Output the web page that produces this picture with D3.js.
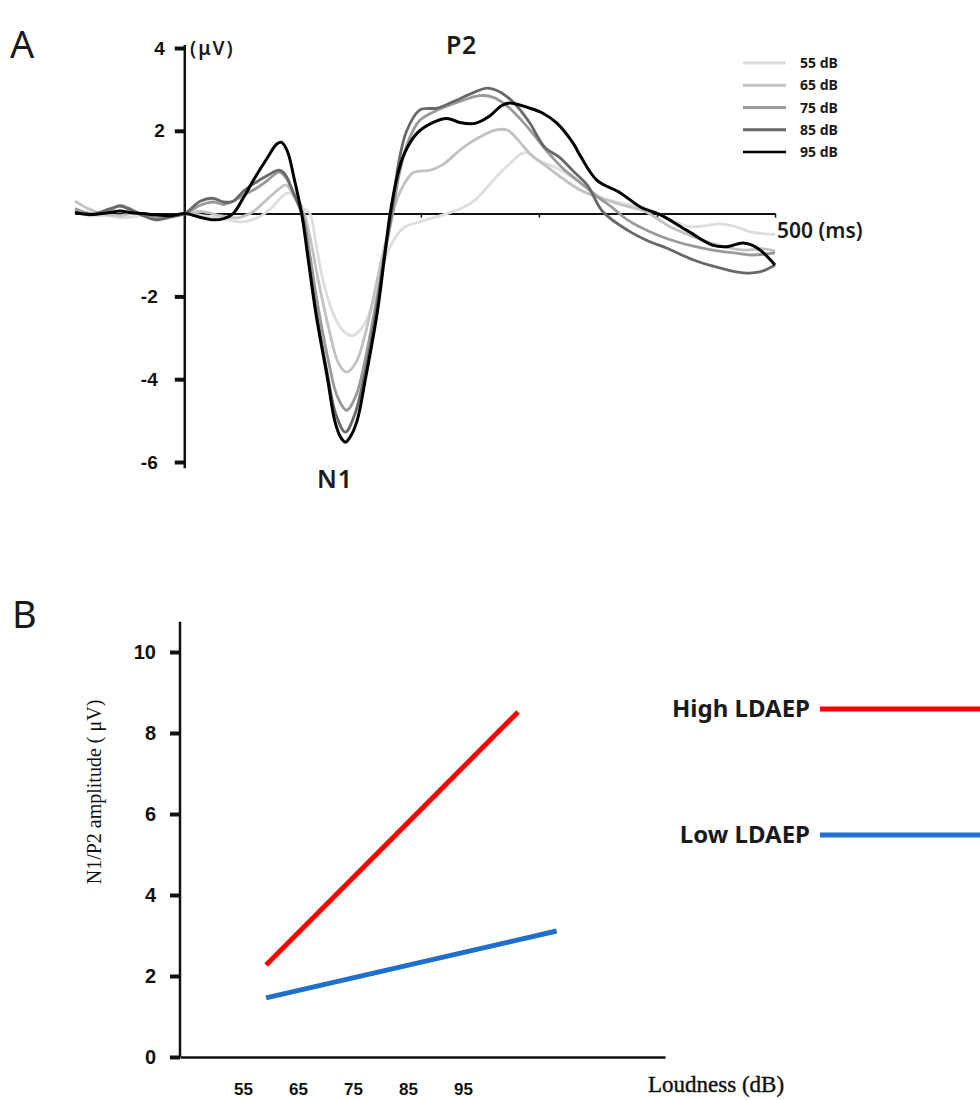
<!DOCTYPE html>
<html lang="en">
<head>
<meta charset="utf-8"/>
<style>
  body { margin: 0; background: #ffffff; }
  .num { font-family: "Liberation Sans", Arial, sans-serif; font-weight: bold; font-size: 17px; fill: #111; }
  .kr { font-family: "Noto Sans", "Open Sans", sans-serif; fill: #1a1a1a; }
  .serif { font-family: "Liberation Serif", "Times New Roman", serif; fill: #111; }
</style>
</head>
<body>
<svg id="chart" width="980" height="1100"></svg>

<script src="https://cdn.jsdelivr.net/npm/d3@7"></script>
<script>
// ---------- panel A : grand average waveforms, [time ms, amplitude uV] ----------
let wave55 = [[-93,0.05],[-80,-0.05],[-65,-0.05],[-55,-0.1],[-45,-0.08],[-35,-0.05],[-25,-0.15],[-12,-0.1],[0,0],[15,-0.05],[30,-0.1],[47,-0.2],[60,-0.12],[72,0.1],[82,0.4],[88,0.5],[95,0.35],[101,0.12],[106,0],[111,-0.7],[117,-1.6],[127,-2.5],[135,-2.85],[142,-2.95],[149,-2.8],[155,-2.5],[165,-1.6],[174,-0.8],[185,-0.35],[199,-0.2],[222,0],[236,0.15],[246,0.33],[255,0.6],[264,0.89],[275,1.2],[286,1.46],[292,1.45],[298,1.3],[315,1.1],[335,0.75],[352,0.4],[370,0.25],[388,0.15],[405,-0.05],[425,-0.3],[440,-0.3],[452,-0.25],[465,-0.3],[480,-0.45],[500,-0.5]]
let wave65 = [[-93,0.3],[-82,0.12],[-70,0],[-55,-0.05],[-45,0],[-35,-0.03],[-25,-0.1],[-12,-0.06],[0,0],[15,0.05],[30,-0.05],[45,-0.1],[58,0.05],[70,0.35],[80,0.6],[86,0.69],[92,0.45],[98,0.1],[101,0],[107,-0.7],[113,-1.6],[123,-2.9],[130,-3.6],[137,-3.83],[145,-3.6],[153,-2.9],[163,-1.6],[170,-0.7],[176,0],[182,0.5],[193,0.98],[208,1.05],[218,1.17],[236,1.6],[250,1.85],[264,2.02],[273,2.02],[281,1.82],[292,1.46],[307,1.13],[320,0.85],[335,0.57],[350,0.4],[369,0.22],[390,0.05],[410,-0.3],[430,-0.55],[447,-0.72],[460,-0.82],[475,-0.88],[490,-0.85],[500,-0.9]]
let wave75 = [[-93,0.12],[-80,0],[-65,0.05],[-55,0.2],[-45,0.1],[-35,-0.05],[-25,-0.1],[-12,-0.05],[0,0],[13,0.2],[24,0.28],[33,0.22],[41,0.3],[50,0.45],[60,0.6],[70,0.8],[80,1.0],[86,0.85],[93,0.45],[100,0],[106,-1.0],[112,-2.1],[122,-3.6],[129,-4.4],[137,-4.75],[145,-4.4],[153,-3.5],[163,-2.0],[170,-0.9],[176,0],[182,1.0],[190,1.8],[199,2.25],[214,2.5],[230,2.68],[250,2.85],[262,2.8],[275,2.55],[290,2.1],[307,1.5],[320,1.1],[335,0.75],[350,0.4],[362,0.15],[375,-0.15],[395,-0.45],[410,-0.62],[430,-0.78],[447,-0.88],[465,-0.95],[480,-1.0],[500,-0.95]]
let wave85 = [[-93,0.05],[-80,-0.03],[-65,0.1],[-55,0.18],[-45,0.08],[-35,-0.05],[-25,-0.15],[-12,-0.08],[0,0],[13,0.3],[24,0.37],[33,0.28],[41,0.3],[50,0.55],[60,0.75],[70,0.92],[80,1.05],[85,0.95],[92,0.5],[99,0],[105,-1.1],[111,-2.3],[121,-3.9],[128,-4.85],[136,-5.28],[144,-4.85],[153,-3.8],[163,-2.2],[169,-1.0],[175,0],[181,1.2],[188,2.0],[199,2.5],[214,2.55],[227,2.7],[246,2.94],[256,3.03],[267,2.94],[278,2.7],[292,2.2],[305,1.6],[317,1.37],[330,1.0],[341,0.69],[354,0.05],[375,-0.4],[394,-0.68],[408,-0.83],[431,-1.12],[453,-1.31],[473,-1.43],[487,-1.41],[500,-1.24]]
let wave95 = [[-93,0.02],[-80,-0.02],[-65,0.02],[-55,0.06],[-45,0.02],[-35,0],[-25,-0.03],[-12,-0.05],[0,0],[12,-0.08],[24,-0.15],[33,-0.12],[41,0],[50,0.4],[58,0.8],[70,1.35],[78,1.68],[82,1.72],[87,1.5],[93,0.8],[99,0],[105,-1.2],[111,-2.4],[121,-4.0],[127,-5.0],[132,-5.4],[136,-5.52],[140,-5.4],[146,-5.0],[153,-4.0],[163,-2.4],[169,-1.1],[174,0],[180,0.9],[186,1.45],[197,1.95],[210,2.2],[222,2.3],[233,2.2],[246,2.18],[258,2.35],[268,2.6],[275,2.67],[292,2.55],[303,2.43],[315,2.19],[329,1.7],[335,1.4],[349,0.81],[369,0.5],[386,0.16],[403,-0.03],[425,-0.4],[447,-0.76],[459,-0.8],[473,-0.71],[485,-0.83],[500,-1.24]]

let levelNames = ["55 dB", "65 dB", "75 dB", "85 dB", "95 dB"]
let levelColors = ["#dedede", "#c2c2c2", "#9a9a9a", "#686868", "#000000"]
let waves = [wave55, wave65, wave75, wave85, wave95]
let ampTicks = [-6, -4, -2, 2, 4]
let timeTicks = [100, 200, 300, 400, 500]

// ---------- panel B : N1/P2 amplitude vs loudness, [dB, uV] ----------
let loudTicks = [55, 65, 75, 85, 95]
let n1p2Ticks = [0, 2, 4, 6, 8, 10]
let highLdaep = [[59.2, 2.27], [105, 8.52]]
let lowLdaep = [[59.2, 1.46], [112, 3.11]]
let groupNames = ["High LDAEP", "Low LDAEP"]
let groupColors = ["#ff0000", "#1f6fce"]

let svg = d3.select("#chart")

// ================= panel A =================
let xA = d3.scaleLinear().domain([-93, 500]).range([75, 775])
let yA = d3.scaleLinear().domain([-6, 4]).range([462, 48])

svg.append("text").attr("class", "kr").attr("x", 10).attr("y", 58)
   .style("font-size", "38px").text("A")

// time baseline with small ticks
let xAxisA = svg.append("g")
  .attr("transform", "translate(0," + yA(0) + ")")
  .call(d3.axisBottom(xA).tickValues(timeTicks).tickSize(4).tickSizeOuter(0).tickFormat(""))
xAxisA.select(".domain").attr("stroke", "#111").attr("stroke-width", 2)
xAxisA.selectAll(".tick line").attr("stroke", "#111").attr("stroke-width", 1.5)

// amplitude axis
let yAxisA = svg.append("g")
  .attr("transform", "translate(" + xA(0) + ",0)")
  .call(d3.axisLeft(yA).tickValues(ampTicks).tickSize(10).tickPadding(10).tickFormat(d => String(d)))
yAxisA.select(".domain").remove()
yAxisA.selectAll(".tick line").attr("stroke", "#111").attr("stroke-width", 4)
yAxisA.selectAll(".tick text").attr("class", "num").style("font-size", "19px")
  .attr("dx", d => d < 0 ? -7 : 0)
yAxisA.append("line").attr("y1", yA(4.07)).attr("y2", yA(-6.15))
  .attr("stroke", "#111").attr("stroke-width", 2.5)

let waveLine = d3.line()
  .x(d => xA(d[0]))
  .y(d => yA(d[1]))
  .curve(d3.curveCatmullRom.alpha(0.5))

svg.append("g").selectAll("path")
  .data(waves)
  .enter()
  .append("path")
  .attr("d", waveLine)
  .attr("fill", "none")
  .attr("stroke", (d, i) => levelColors[i])
  .attr("stroke-width", (d, i) => i == 4 ? 3 : 2.8)
  .attr("stroke-linejoin", "round")

svg.append("text").attr("class", "kr").attr("x", 190).attr("y", 55)
   .style("font-size", "19px").style("font-weight", 600).style("letter-spacing", "2px").text("(μV)")
svg.append("text").attr("class", "kr").attr("x", xA(500) + 2).attr("y", yA(0) + 24)
   .style("font-size", "21px").style("font-weight", 600).text("500 (ms)")
svg.append("text").attr("class", "kr").attr("x", 446).attr("y", 54)
   .style("font-size", "25px").style("font-weight", 600).style("letter-spacing", "0.5px").text("P2")
svg.append("text").attr("class", "kr").attr("x", 317).attr("y", 488)
   .style("font-size", "25px").style("font-weight", 600).style("letter-spacing", "1px").text("N1")

// legend of sound levels
let legA = svg.append("g").selectAll("g")
  .data(levelNames)
  .enter()
  .append("g")
  .attr("transform", (d, i) => "translate(743," + (63 + i * 22.25) + ")")
legA.append("line").attr("x1", 0).attr("x2", 43)
  .attr("stroke", (d, i) => levelColors[i]).attr("stroke-width", (d, i) => i == 4 ? 2.5 : 3)
legA.append("text").attr("class", "kr").attr("x", 57).attr("y", 5)
  .style("font-size", "14px").style("font-weight", 700).attr("fill", "#333")
  .text(d => d)

// ================= panel B =================
let xB = d3.scaleLinear().domain([43.55, 131.7]).range([180, 665])
let yB = d3.scaleLinear().domain([0, 10]).range([1057, 652])

svg.append("text").attr("class", "kr").attr("x", 12).attr("y", 628)
   .style("font-size", "38px").text("B")

let xAxisB = svg.append("g")
  .attr("transform", "translate(0," + yB(0) + ")")
  .call(d3.axisBottom(xB).tickValues(loudTicks).tickSize(0).tickPadding(26).tickSizeOuter(0))
xAxisB.select(".domain").attr("stroke", "#111").attr("stroke-width", 2.5)
xAxisB.selectAll(".tick text").attr("class", "num").style("font-size", "17px")

let yAxisB = svg.append("g")
  .attr("transform", "translate(" + xB(43.55) + ",0)")
  .call(d3.axisLeft(yB).tickValues(n1p2Ticks).tickSize(10).tickPadding(14))
yAxisB.select(".domain").remove()
yAxisB.selectAll(".tick line").attr("stroke", "#111").attr("stroke-width", 4)
yAxisB.selectAll(".tick text").attr("class", "num").style("font-size", "20px")
yAxisB.append("line").attr("y1", yB(10.75)).attr("y2", yB(0))
  .attr("stroke", "#111").attr("stroke-width", 2.5)

svg.append("text").attr("class", "serif")
  .attr("transform", "translate(101,792) rotate(-90)")
  .attr("text-anchor", "middle")
  .style("font-size", "20px")
  .text("N1/P2 amplitude ( μV)")

svg.append("text").attr("class", "serif").attr("x", 648).attr("y", 1092)
  .style("font-size", "23px").style("stroke", "#111").style("stroke-width", "0.4px")
  .text("Loudness (dB)")

let ampLine = d3.line().x(d => xB(d[0])).y(d => yB(d[1]))

svg.append("g").selectAll("path")
  .data([highLdaep, lowLdaep])
  .enter()
  .append("path")
  .attr("d", ampLine)
  .attr("fill", "none")
  .attr("stroke", (d, i) => groupColors[i])
  .attr("stroke-width", 5)

// legend of groups
let legB = svg.append("g").selectAll("g")
  .data(groupNames)
  .enter()
  .append("g")
  .attr("transform", (d, i) => "translate(820," + (709 + i * 126) + ")")
legB.append("line").attr("x1", 0).attr("x2", 170)
  .attr("stroke", (d, i) => groupColors[i]).attr("stroke-width", 5)
legB.append("text").attr("class", "kr").attr("x", -10).attr("y", 8)
  .attr("text-anchor", "end")
  .style("font-size", "24px").style("font-weight", 700)
  .text(d => d)
</script>
</body>
</html>
